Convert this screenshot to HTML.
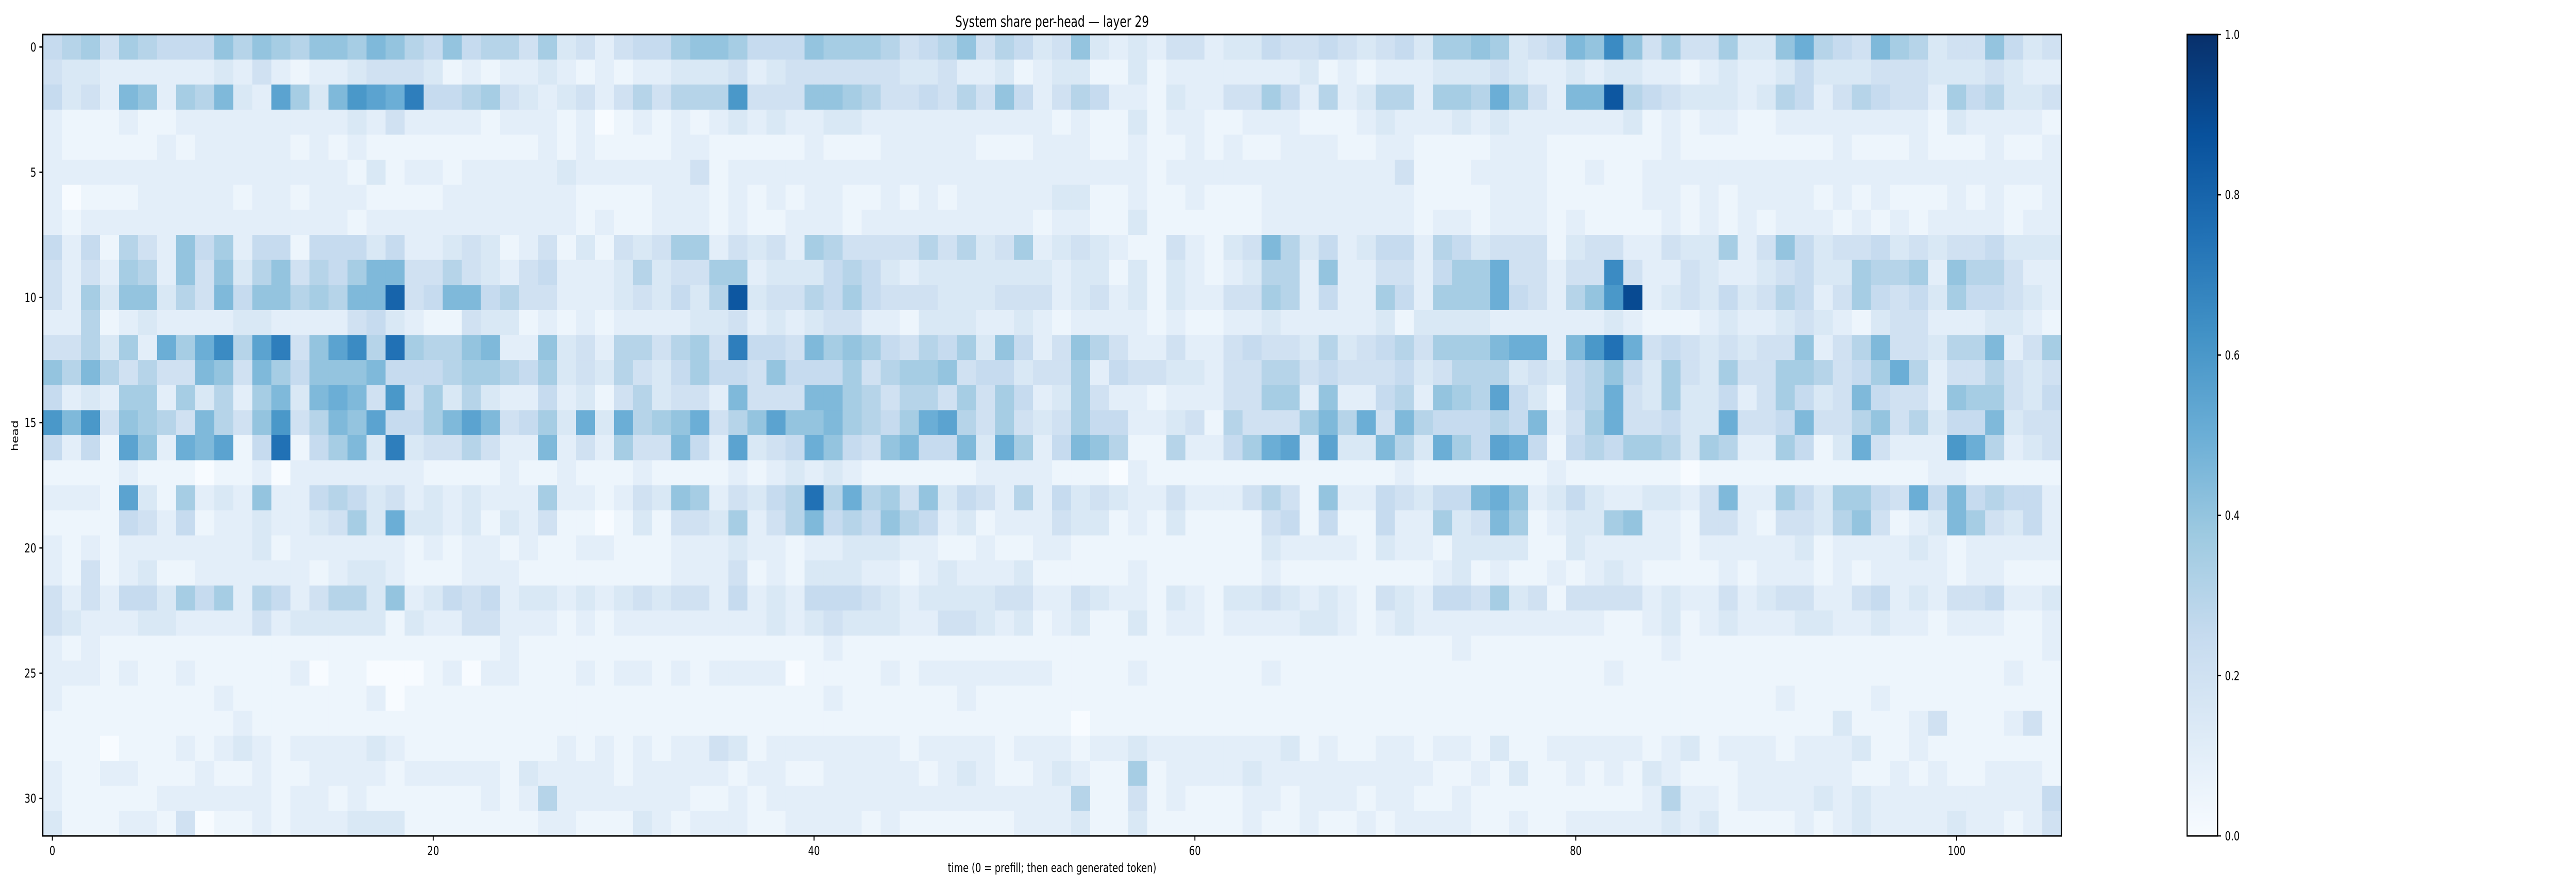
<!DOCTYPE html>
<html><head><meta charset="utf-8">
<style>
html,body{margin:0;padding:0;background:#fff;overflow:hidden;width:100%;height:100%;}
svg{display:block;width:100vw;height:100vh;}
text{font-family:"DejaVu Sans","Liberation Sans",sans-serif;fill:#000;}
</style></head>
<body>
<svg id="chart" viewBox="0 0 6677 1728" preserveAspectRatio="none" xmlns="http://www.w3.org/2000/svg">
<text x="2727" y="52" font-size="29" text-anchor="middle">System share per-head — layer 29</text>
<g id="cells"></g>
<rect x="111" y="67" width="5232" height="1556" fill="none" stroke="#000" stroke-width="3"/>
<g id="xaxis"></g>
<g id="yaxis"></g>
<text x="2727" y="1693" font-size="24" text-anchor="middle">time (0 = prefill; then each generated token)</text>
<text x="0" y="0" font-size="24" text-anchor="middle" transform="translate(47,846) rotate(-90)">head</text>
<defs><linearGradient id="cbgrad" x1="0" y1="1" x2="0" y2="0"></linearGradient></defs>
<rect x="5669" y="67" width="79" height="1556" fill="url(#cbgrad)" stroke="#000" stroke-width="3"/>
<g id="cbaxis"></g>
</svg>
<script>
// Heatmap values: each char -> parseInt(c,36)/20, one char per time step (106 columns), 32 heads.
const chunkA = [
"567476555868768879865856647","433222222324212234443121223","534298276932b739cbae5567432","211121122222222232422221222",
"211111212222212121111111112","222222222222222213122122222","201112222212212221111222222","212222222222222212222222222",
"525164285725515553522343124","424276284836846579944643245","427388364958867699g45995644","226123222233222245321143312",
"446372a7ad6be48bd6f76689228","869646449849758889555677657","523277273627939a94c47363225","c9c487649648c4698b5579b9457",
"5251b82a9b15f15793e34464229","111121110112022222221111211","2221b3172328225653423232227","111154251223223473a33231324",
"212122222223122222212122121","214123112222221233211122211","424255375726524663823545233","432223322224233333132244222",
"212111111111111111111111211","222121121111120110001202211","211111111211111112011111111","111111111121111111111111111",
"111011121232122223211111111","211221112112112222122222132","211111222222122121111112126","311122140112122233311111112"];
const chunkB = [
"342455788755587776456846534","212122333423444444334223123","342464666c44488764454648524","120121212323223322222222221",
"121111221111121112222211122","322222241222222222222222222","211112221212122112121222223","212112221211222122222222212",
"131434772434276444464634723","222363447723335653233333332","222343536h34465754443334442","121222233423234422133322321",
"342664674e55497875465738524","343643575548555746778455344","231463442944499764664747523","3a3a678a468b8897657ab647434",
"242744952b345a854895593a725","211121111212323211111122221","2212438724356f6a67483542625","110131443724695658652312224",
"122111222322122333221121122","111111222412133322123222311","232343442523255543233334422","121222222223234333224432312",
"111111111111112111111111111","121221212222011112122222221","111111111111112111111211111","111111111111111111111111111",
"212121224312222222122221222","222122222122112222212321123","222222211212222222222222222","211132122211222212111111222"];
const chunkC = [
"832324423354454345377873459","311312222222312122233343223","6522132244752623662776a7429","211312211222111232223232222",
"211211212112221122111122211","222212222222222224111222211","311211211122222222111122211","211311111122222222122122212",
"432114213496352355265344413","3313132123662822442577a4424","3423132244762522752777a5426","222212112232222231333322222",
"86422422454436345647779aa29","725443324466454445346663435","7422122244772822562876b5315","755223416444796a49655565924",
"9861162257ab2b33963a75ba515","110211111111111112111111121","3432242224641822543559a8235","331213111145151152273497123",
"111111111132222132213333113","111211111121111111123121121","432213213343232143255473414","311312212222332123222222222",
"111111111111111111112111111","111211111121111111111111111","111111111111111111111111111","011111111111111111111111111",
"122322222223121122122131122","211712222322222222211213112","611412111221222122112111111","311311111211211212222112112"];
const chunkD = [
"8d847447338a6549763448534","2332212322353334443334322","9h65433323652465442756334","2231212211222222221322221",
"1111211111111211121112112","2112222222222222222222222","1112212122221212111212112","1111212121222121212222122",
"4422433724853445343445333","4d42243223453376672866422","8ci2343534652475453755432","2321112322343213442223321",
"cfa4543434482469443669247","6853743744776457a62446434","6a43733524753495442877435","7a44533a44594468463559344",
"65776376227513a4222ca6234","1111101111111111112211111","32233249227537754a5956552","3782214421443684123974352",
"2222212222231222232122222","2321111212221212222122111","4442322423442245232445223","2112312322233223221222112",
"1111211111111111111111112","1211111111111111111111211","1111111111211112111111111","1111111111111311124111241",
"2221231222122231121111111","1213211122222211212112221","1112622122223232222222225","2222323111121232222322124"];
const xTicks = [0,20,40,60,80,100];
const yTicks = [0,5,10,15,20,25,30];
const cbTicks = [0.0,0.2,0.4,0.6,0.8,1.0];
const nCols = 106, nRows = 32;

const PX0=111, PY0=67, PW=5232, PH=1556;
const CB_X=5669, CB_W=79, CB_Y0=67, CB_H=1556;
const stops=["#f7fbff","#deebf7","#c6dbef","#9ecae1","#6baed6","#4292c6","#2171b5","#08519c","#08306b"];
function hex(h){return [parseInt(h.slice(1,3),16),parseInt(h.slice(3,5),16),parseInt(h.slice(5,7),16)];}
function cmap(v){v=Math.max(0,Math.min(1,v));const p=v*(stops.length-1);const i=Math.min(stops.length-2,Math.floor(p));const t=p-i;const a=hex(stops[i]),b=hex(stops[i+1]);return "rgb("+a.map((c,k)=>Math.round(c+(b[k]-c)*t)).join(",")+")";}
function xScale(c){return PX0+c*PW/nCols;}
function yScale(r){return PY0+r*PH/nRows;}
function fit(s,n){s=s.replace(/\s/g,'');while(s.length<n)s+='1';return s.slice(0,n);}
const values=[];
for(let r=0;r<nRows;r++){
  const s=fit(chunkA[r],27)+fit(chunkB[r],27)+fit(chunkC[r],27)+fit(chunkD[r],25);
  values.push(s.split('').map(ch=>parseInt(ch,36)/20));
}
const NS="http://www.w3.org/2000/svg";
const cells=document.getElementById('cells');
for(let r=0;r<nRows;r++){for(let c=0;c<nCols;c++){
  const el=document.createElementNS(NS,'rect');
  const x0=xScale(c),x1=xScale(c+1),y0=yScale(r),y1=yScale(r+1);
  el.setAttribute('x',x0.toFixed(2));el.setAttribute('y',y0.toFixed(2));
  el.setAttribute('width',(x1-x0+0.6).toFixed(2));el.setAttribute('height',(y1-y0+0.6).toFixed(2));
  el.setAttribute('fill',cmap(values[r][c]));
  
  
  cells.appendChild(el);
}}
const xa=document.getElementById('xaxis');
xTicks.forEach(t=>{
  const x=xScale(t+0.5);
  const ln=document.createElementNS(NS,'line');
  ln.setAttribute('x1',x);ln.setAttribute('x2',x);ln.setAttribute('y1',1623);ln.setAttribute('y2',1632);ln.setAttribute('stroke','#000');ln.setAttribute('stroke-width','2.5');
  
  
  xa.appendChild(ln);
  const tx=document.createElementNS(NS,'text');
  tx.setAttribute('x',x);tx.setAttribute('y',1660);tx.setAttribute('font-size','24');tx.setAttribute('text-anchor','middle');
  tx.textContent=String(t);
  
  
  xa.appendChild(tx);
});
const ya=document.getElementById('yaxis');
yTicks.forEach(t=>{
  const y=yScale(t+0.5);
  const ln=document.createElementNS(NS,'line');
  ln.setAttribute('x1',102);ln.setAttribute('x2',111);ln.setAttribute('y1',y);ln.setAttribute('y2',y);ln.setAttribute('stroke','#000');ln.setAttribute('stroke-width','2.5');
  
  
  ya.appendChild(ln);
  const tx=document.createElementNS(NS,'text');
  tx.setAttribute('x',94);tx.setAttribute('y',y+8.5);tx.setAttribute('font-size','24');tx.setAttribute('text-anchor','end');
  tx.textContent=String(t);
  
  
  ya.appendChild(tx);
});
const grad=document.getElementById('cbgrad');
stops.forEach((s,i)=>{const st=document.createElementNS(NS,'stop');st.setAttribute('offset',(i/(stops.length-1)));st.setAttribute('stop-color',s);grad.appendChild(st);});
const cba=document.getElementById('cbaxis');
cbTicks.forEach(t=>{
  const y=CB_Y0+CB_H*(1-t);
  const ln=document.createElementNS(NS,'line');
  ln.setAttribute('x1',CB_X+CB_W);ln.setAttribute('x2',CB_X+CB_W+9);ln.setAttribute('y1',y);ln.setAttribute('y2',y);ln.setAttribute('stroke','#000');ln.setAttribute('stroke-width','2.5');
  
  
  cba.appendChild(ln);
  const tx=document.createElementNS(NS,'text');
  tx.setAttribute('x',CB_X+CB_W+19);tx.setAttribute('y',y+8.5);tx.setAttribute('font-size','24');
  tx.textContent=t.toFixed(1);
  
  
  cba.appendChild(tx);
});
</script>
</body></html>
